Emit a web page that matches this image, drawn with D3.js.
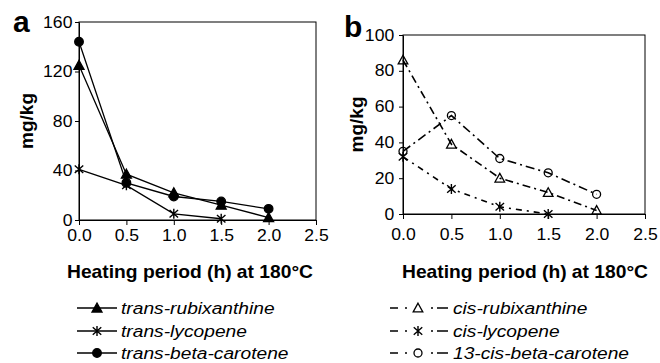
<!DOCTYPE html>
<html>
<head>
<meta charset="utf-8">
<script src="https://cdn.jsdelivr.net/npm/d3@7"></script>
<style>
  body { margin: 0; background: #fff; }
  text { font-family: "Liberation Sans", Arial, Helvetica, sans-serif; fill: #000; }
</style>
</head>
<body>
<svg id="chart" width="660" height="363"></svg>
<script>
// data (mg/kg vs hours at 180 C)
var hours = [0, 0.5, 1.0, 1.5, 2.0];
var xTicks = [0, 0.5, 1.0, 1.5, 2.0, 2.5];
var yTicksA = [0, 40, 80, 120, 160];
var yTicksB = [0, 20, 40, 60, 80, 100];

var transRubixanthine = [125, 37, 22, 12, 2];
var transLycopene = [41, 28, 5, 1, null];
var transBetaCarotene = [144, 30, 19, 15, 9];

var cisRubixanthine = [86, 39, 20, 12, 2];
var cisLycopene = [32, 14, 4, 0, null];
var cis13BetaCarotene = [35, 55, 31, 23, 11];

var namesA = ["trans-rubixanthine", "trans-lycopene", "trans-beta-carotene"];
var namesB = ["cis-rubixanthine", "cis-lycopene", "13-cis-beta-carotene"];
var shapes = ["triangle", "star", "circle"];

var svg = d3.select("svg#chart");
var SX = 1.1; // text in the original is a bit wide

function marker(g, shape, filled, x, y) {
  var fill = filled ? "#000" : "none";
  if (shape == "circle") {
    g.append("circle").attr("cx", x).attr("cy", y).attr("r", filled ? 4.3 : 4)
      .attr("fill", fill).attr("stroke", "#000").attr("stroke-width", 1.3);
  } else if (shape == "triangle") {
    var s = filled ? 5 : 4.8;
    g.append("path")
      .attr("d", "M" + x + "," + (y - s) + "L" + (x + s) + "," + (y + s * 0.8) + "L" + (x - s) + "," + (y + s * 0.8) + "Z")
      .attr("fill", fill).attr("stroke", "#000").attr("stroke-width", 1.3);
  } else {
    var r = 5;
    g.append("path")
      .attr("d", "M" + x + "," + (y - r) + "V" + (y + r) +
        "M" + (x - r * 0.85) + "," + (y - r * 0.75) + "L" + (x + r * 0.85) + "," + (y + r * 0.75) +
        "M" + (x - r * 0.85) + "," + (y + r * 0.75) + "L" + (x + r * 0.85) + "," + (y - r * 0.75))
      .attr("fill", "none").attr("stroke", "#000").attr("stroke-width", 1.4);
  }
}

function panel(opt) {
  var g = svg.append("g");
  var x = d3.scaleLinear().domain([0, 2.5]).range([opt.left, opt.right]);
  var y = d3.scaleLinear().domain([0, opt.yMax]).range([opt.bottom, opt.top]);

  // frame
  g.append("rect").attr("x", opt.left).attr("y", opt.top)
    .attr("width", opt.right - opt.left).attr("height", opt.bottom - opt.top)
    .attr("fill", "none").attr("stroke", "#000").attr("stroke-width", 1);

  var ax = g.append("g").attr("transform", "translate(0," + opt.bottom + ")")
    .call(d3.axisBottom(x).tickValues(xTicks).tickFormat(d3.format(".1f"))
      .tickSize(5).tickSizeOuter(0).tickPadding(opt.xPad));
  var ay = g.append("g").attr("transform", "translate(" + opt.left + ",0)")
    .call(d3.axisLeft(y).tickValues(opt.yTicks).tickSize(4).tickSizeOuter(0).tickPadding(opt.yPad));
  [ax, ay].forEach(function(a) {
    a.select(".domain").attr("stroke", "#000");
    a.selectAll(".tick line").attr("stroke", "#000");
    a.selectAll(".tick text").attr("font-size", 16).attr("font-family", null)
      .attr("fill", "#000").attr("transform", "scale(" + SX + ",1)");
  });

  // series
  var line = d3.line().defined(function(d) { return d != null; })
    .x(function(d, i) { return x(hours[i]); })
    .y(function(d) { return y(d); });
  opt.series.forEach(function(vals, k) {
    g.append("path").datum(vals).attr("d", line)
      .attr("fill", "none").attr("stroke", "#000")
      .attr("stroke-width", opt.filled ? 1.3 : 1.6)
      .attr("stroke-dasharray", opt.dash[k]);
  });
  opt.series.forEach(function(vals, k) {
    vals.forEach(function(v, i) {
      if (v != null) marker(g, shapes[k], opt.filled, x(hours[i]), y(v));
    });
  });

  // panel letter
  g.append("text").attr("x", opt.letterX).attr("y", opt.letterY)
    .attr("font-size", 30).attr("font-weight", "bold").text(opt.letter);

  // axis titles
  g.append("text")
    .attr("transform", "translate(" + opt.yTitleX + "," + (opt.top + opt.bottom) / 2 + ") rotate(-90)")
    .attr("text-anchor", "middle").attr("font-size", 19).attr("font-weight", "bold")
    .text("mg/kg");
  g.append("text")
    .attr("transform", "translate(" + opt.xTitleX + ",278) scale(" + SX + ",1)")
    .attr("text-anchor", "middle").attr("font-size", 17.5).attr("font-weight", "bold")
    .text("Heating period (h) at 180\u00B0C");

  // legend
  var rows = [308, 331, 353];
  opt.names.forEach(function(name, k) {
    var ly = rows[k];
    g.append("line").attr("x1", opt.legX0).attr("x2", opt.legX1)
      .attr("y1", ly).attr("y2", ly).attr("stroke", "#000")
      .attr("stroke-width", opt.filled ? 1.3 : 1.6)
      .attr("stroke-dasharray", opt.legDash);
    marker(g, shapes[k], opt.filled, opt.legMark, ly);
    g.append("text")
      .attr("transform", "translate(" + opt.legText + "," + (ly + 6) + ") scale(1.13,1)")
      .attr("font-size", 17).attr("font-style", "italic").text(name);
  });
}

panel({
  left: 79, right: 316, top: 22, bottom: 220, yMax: 160, yTicks: yTicksA,
  xPad: 5, yPad: 2, filled: true,
  series: [transRubixanthine, transLycopene, transBetaCarotene],
  dash: [null, null, null], names: namesA,
  letter: "a", letterX: 13, letterY: 32, yTitleX: 33, xTitleX: 190,
  legX0: 77, legX1: 117, legMark: 97, legText: 121, legDash: null
});

panel({
  left: 403, right: 645, top: 35, bottom: 214, yMax: 100, yTicks: yTicksB,
  xPad: 10, yPad: 4, filled: false,
  series: [cisRubixanthine, cisLycopene, cis13BetaCarotene],
  dash: ["8,4,2,4", "6,5,2,5", "9,4,2,4"], names: namesB,
  letter: "b", letterX: 344, letterY: 37, yTitleX: 363, xTitleX: 525,
  legX0: 390, legX1: 448, legMark: 418, legText: 453, legDash: "8,7,2,24,2,4,11"
});
</script>
</body>
</html>
